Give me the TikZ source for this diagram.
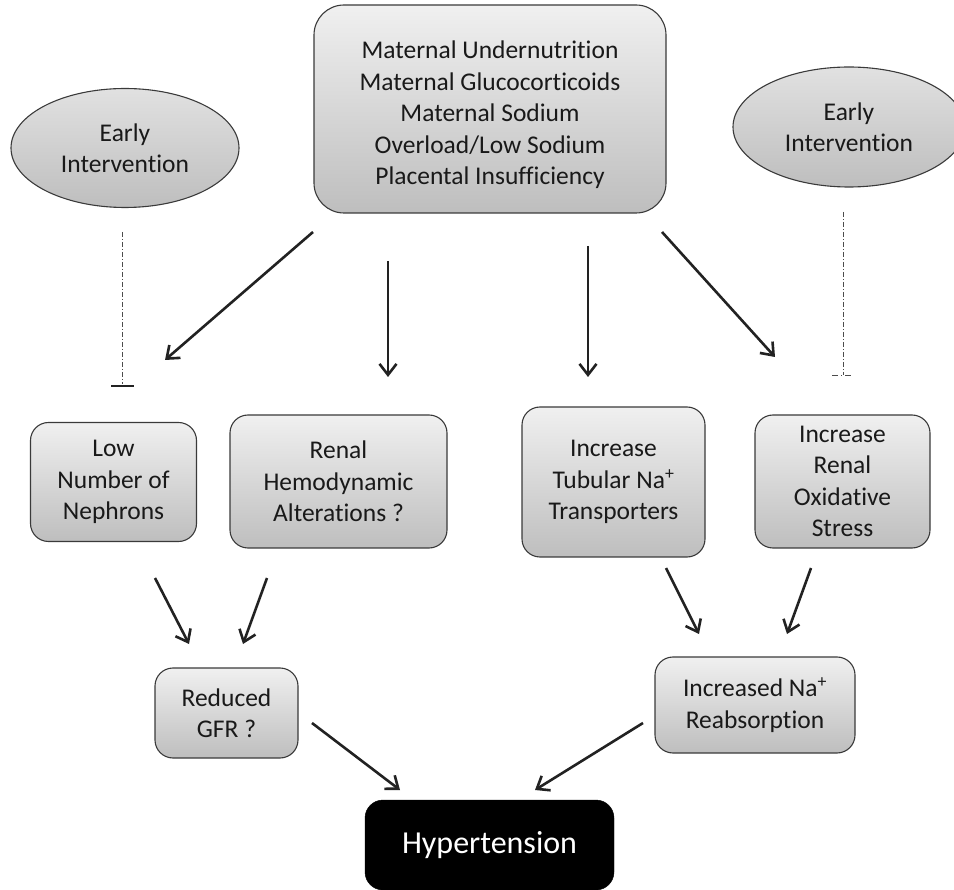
\documentclass[tikz,border=0pt]{standalone}
\usepackage{fontspec}
\setmainfont{Carlito}[Ligatures={NoCommon}]
\usetikzlibrary{arrows.meta,shapes.geometric}
\definecolor{edge}{HTML}{3A3A3A}
\definecolor{ftop}{HTML}{F0F0F0}
\definecolor{fbot}{HTML}{BEBEBE}
\definecolor{arr}{HTML}{222222}
\tikzset{
  box/.style={draw=edge, line width=1.1pt, rounded corners=18pt, top color=ftop, bottom color=fbot,
    align=center, inner sep=0pt, font=\fontsize{25.5}{31.5}\selectfont, text=black!90},
  txt/.style={align=center, inner sep=0pt, font=\fontsize{25.5}{31.5}\selectfont, text=black!90},
  oval/.style={ellipse, draw=edge, line width=1.1pt, top color=ftop!70!fbot, bottom color=fbot,
    align=center, inner sep=0pt, font=\fontsize{25.5}{31.5}\selectfont, text=black!90},
  arrow/.style={draw=arr, line width=2.6pt, -{Straight Barb[length=11pt,width=17pt,line width=2.6pt]}},
  inhib/.style={draw=black!70, line width=0.9pt, dash pattern=on 5pt off 2pt on 1pt off 2pt},
}
\begin{document}
\begin{tikzpicture}[x=1pt,y=-1pt]
\useasboundingbox (0,0) rectangle (954,890);
% nodes
\node[box, rounded corners=30pt, minimum width=352pt, minimum height=208pt] (top) at (490,109) {};
\node[txt] (toptext) at (490,115)
  {Maternal Undernutrition\\Maternal Glucocorticoids\\Maternal Sodium\\Overload/Low Sodium\\Placental Insufficiency};
\node[oval, minimum width=228pt, minimum height=119pt] (eil) at (125,148) {Early\\Intervention};
\node[oval, minimum width=232pt, minimum height=120pt] (eir) at (849,127) {Early\\Intervention};
\node[box, minimum width=166pt, minimum height=119pt] (neph) at (113.5,482) {Low\\Number of\\Nephrons};
\node[box, minimum width=217pt, minimum height=133pt] (hemo) at (338.5,481.5) {Renal\\Hemodynamic\\Alterations ?};
\node[box, minimum width=183pt, minimum height=150pt] (tub) at (613.5,482) {Increase\\Tubular Na\textsuperscript{+}\\Transporters};
\node[box, minimum width=175pt, minimum height=133pt] (oxi) at (842.5,481.5) {Increase\\Renal\\Oxidative\\Stress};
\node[box, minimum width=143pt, minimum height=90pt] (gfr) at (226.5,713) {Reduced\\GFR ?};
\node[box, minimum width=200pt, minimum height=96pt] (reab) at (755,705) {Increased Na\textsuperscript{+}\\Reabsorption};
\node[draw=black, fill=black, rounded corners=18pt, minimum width=249pt, minimum height=90pt,
  text=white, font=\fontsize{32}{38}\selectfont] (hyp) at (489.5,845) {Hypertension};
% coordinates for connector ends
\coordinate (a1s) at (313,232); \coordinate (a1e) at (165,360);
\coordinate (a2s) at (388,261); \coordinate (a2e) at (388,377);
\coordinate (a3s) at (588,246); \coordinate (a3e) at (588,377);
\coordinate (a4s) at (662,232); \coordinate (a4e) at (775,357);
\coordinate (b1s) at (155,578); \coordinate (b1e) at (189,644);
\coordinate (b2s) at (267,578); \coordinate (b2e) at (243,644);
\coordinate (b3s) at (666,568); \coordinate (b3e) at (699,634);
\coordinate (b4s) at (811,568); \coordinate (b4e) at (787,634);
\coordinate (c1s) at (312,723); \coordinate (c1e) at (400,790);
\coordinate (c2s) at (643,723); \coordinate (c2e) at (535,790);
\coordinate (i1s) at (122,232); \coordinate (i1e) at (122,384);
\coordinate (i1a) at (111,386); \coordinate (i1b) at (134,386);
\coordinate (i2s) at (843,212); \coordinate (i2e) at (843,375);
\coordinate (i2a) at (832,375); \coordinate (i2b) at (854,375);
% connectors
\foreach \s/\e in {a1s/a1e,a2s/a2e,a3s/a3e,a4s/a4e,b1s/b1e,b2s/b2e,b3s/b3e,b4s/b4e,c1s/c1e,c2s/c2e}
  \draw[arrow] (\s) -- (\e);
\draw[inhib] (i1s) -- (i1e);
\draw[draw=arr, line width=2pt] (i1a) -- (i1b);
\draw[inhib] (i2s) -- (i2e);
\draw[draw=black!70, line width=0.9pt, dash pattern=on 6pt off 3pt on 1pt off 3pt] (i2a) -- (i2b);
\end{tikzpicture}
\end{document}
